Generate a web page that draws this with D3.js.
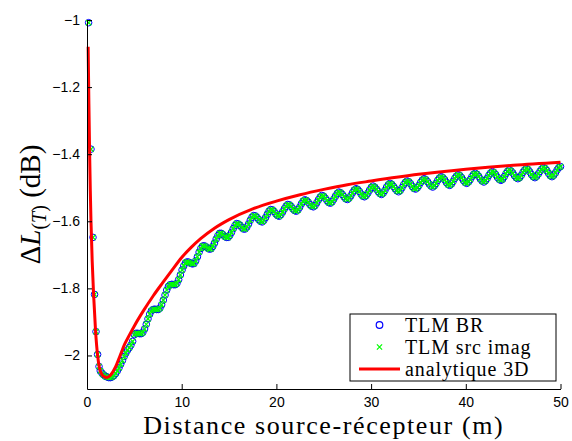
<!DOCTYPE html>
<html>
<head>
<meta charset="utf-8">
<script src="https://cdn.jsdelivr.net/npm/d3@7"></script>
<style>
  body { margin: 0; background: #fff; }
  svg { display: block; }
</style>
</head>
<body>
<div id="chart"></div>
<script>
// TLM samples close to the source (irregular spacing)
const nearX = [0.17, 0.42, 0.63, 0.80, 0.95, 1.12, 1.27];
const nearY = [-1.008, -1.385, -1.648, -1.818, -1.929, -1.997, -2.033];

// TLM samples further out, on a regular 0.18 m grid from 1.40 m to 50 m
const farStart = 1.40;
const farStep = 0.18;
const farY = [
  -2.046, -2.053, -2.058, -2.062, -2.064, -2.066, -2.066, -2.064, -2.060, -2.054,
  -2.046, -2.037, -2.026, -2.015, -2.003, -1.993, -1.984, -1.977, -1.969, -1.958,
  -1.938, -1.934, -1.934, -1.935, -1.935, -1.931, -1.921, -1.907, -1.891, -1.877,
  -1.867, -1.863, -1.862, -1.863, -1.863, -1.859, -1.849, -1.835, -1.820, -1.805,
  -1.794, -1.789, -1.788, -1.789, -1.789, -1.785, -1.774, -1.760, -1.745, -1.733,
  -1.724, -1.721, -1.722, -1.725, -1.727, -1.726, -1.718, -1.706, -1.692, -1.681,
  -1.674, -1.673, -1.676, -1.680, -1.683, -1.682, -1.675, -1.665, -1.653, -1.643,
  -1.636, -1.636, -1.640, -1.645, -1.648, -1.648, -1.642, -1.633, -1.622, -1.613,
  -1.607, -1.608, -1.612, -1.618, -1.623, -1.623, -1.617, -1.608, -1.597, -1.588,
  -1.583, -1.584, -1.589, -1.595, -1.600, -1.602, -1.597, -1.589, -1.579, -1.570,
  -1.565, -1.566, -1.571, -1.578, -1.583, -1.585, -1.580, -1.572, -1.563, -1.555,
  -1.550, -1.551, -1.556, -1.563, -1.568, -1.570, -1.566, -1.558, -1.548, -1.540,
  -1.536, -1.538, -1.543, -1.550, -1.555, -1.557, -1.553, -1.545, -1.536, -1.528,
  -1.523, -1.525, -1.531, -1.538, -1.544, -1.546, -1.542, -1.534, -1.525, -1.517,
  -1.513, -1.515, -1.520, -1.527, -1.533, -1.535, -1.531, -1.524, -1.515, -1.507,
  -1.503, -1.505, -1.511, -1.519, -1.525, -1.527, -1.523, -1.516, -1.507, -1.499,
  -1.495, -1.498, -1.504, -1.511, -1.517, -1.520, -1.516, -1.508, -1.498, -1.491,
  -1.487, -1.490, -1.496, -1.503, -1.509, -1.512, -1.508, -1.500, -1.491, -1.484,
  -1.480, -1.482, -1.488, -1.496, -1.502, -1.504, -1.500, -1.493, -1.484, -1.477,
  -1.473, -1.476, -1.482, -1.489, -1.495, -1.498, -1.494, -1.487, -1.478, -1.471,
  -1.467, -1.470, -1.476, -1.484, -1.490, -1.493, -1.489, -1.481, -1.472, -1.465,
  -1.461, -1.464, -1.470, -1.478, -1.484, -1.487, -1.483, -1.476, -1.467, -1.460,
  -1.457, -1.460, -1.466, -1.474, -1.480, -1.483, -1.479, -1.472, -1.463, -1.456,
  -1.452, -1.455, -1.461, -1.469, -1.475, -1.478, -1.475, -1.467, -1.458, -1.451,
  -1.447, -1.450, -1.456, -1.464, -1.470, -1.473, -1.470, -1.463, -1.454, -1.447,
  -1.443, -1.446, -1.453, -1.461, -1.467, -1.470, -1.466, -1.459, -1.451, -1.444,
  -1.440, -1.443, -1.449, -1.457, -1.464, -1.467, -1.463, -1.456, -1.447, -1.440,
  -1.437
];

// analytic 3D solution
const anaX = [0.12, 0.2, 0.28, 0.35, 0.42, 0.55, 0.7, 0.9, 1.12, 1.3,
  1.5, 1.8, 2.1, 2.5, 3, 3.5, 4, 4.5, 5, 6,
  7, 8, 9, 10, 11, 12, 13.5, 15, 17.5, 20,
  22.5, 25, 27.5, 30, 35, 40, 45, 50];
const anaY = [-1.08, -1.25, -1.40, -1.51, -1.60, -1.72, -1.82, -1.925, -2.0, -2.035,
  -2.053, -2.063, -2.066, -2.058, -2.035, -2.0, -1.965, -1.938, -1.912, -1.865,
  -1.822, -1.783, -1.745, -1.708, -1.678, -1.652, -1.62, -1.595, -1.563, -1.540,
  -1.521, -1.505, -1.491, -1.480, -1.460, -1.445, -1.433, -1.424];

const xTicks = [0, 10, 20, 30, 40, 50];
const yTicks = [-1, -1.2, -1.4, -1.6, -1.8, -2];
const legendLabels = ["TLM BR", "TLM src imag", "analytique 3D"];

const tlmX = nearX.concat(farY.map((_, i) => farStart + i * farStep));
const tlmValues = nearY.concat(farY);
const tlmBR = tlmX.map((x, i) => ({ x, y: tlmValues[i] }));
// both TLM variants coincide at plotting precision
const tlmImag = tlmBR.map(d => ({ ...d }));
const analytic = anaX.map((x, i) => ({ x, y: anaY[i] }));

const W = 572, H = 441;
const margin = { top: 20, right: 11.5, bottom: 52, left: 87 };
const width = W - margin.left - margin.right;
const height = H - margin.top - margin.bottom;

const svg = d3.select("#chart").append("svg")
  .attr("width", W)
  .attr("height", H);

const g = svg.append("g")
  .attr("transform", `translate(${margin.left},${margin.top})`);

const x = d3.scaleLinear().domain([0, 50]).range([0, width]);
const y = d3.scaleLinear().domain([-2.1, -1]).range([height, 0]);

const tickFont = "'Liberation Sans', Arial, sans-serif";
const serif = "'Liberation Serif', 'DejaVu Serif', serif";

// markers
g.append("g")
  .selectAll("circle")
  .data(tlmBR)
  .join("circle")
  .attr("cx", d => x(d.x))
  .attr("cy", d => y(d.y))
  .attr("r", 3.3)
  .attr("fill", "none")
  .attr("stroke", "#0000ff")
  .attr("stroke-width", 1);

const cross = s => `M${-s},${-s}L${s},${s}M${-s},${s}L${s},${-s}`;

g.append("g")
  .selectAll("path")
  .data(tlmImag)
  .join("path")
  .attr("transform", d => `translate(${x(d.x)},${y(d.y)})`)
  .attr("d", cross(2.6))
  .attr("stroke", "#00ff00")
  .attr("stroke-width", 1.2);

const line = d3.line()
  .x(d => x(d.x))
  .y(d => y(d.y))
  .curve(d3.curveMonotoneX);

g.append("path")
  .datum(analytic)
  .attr("fill", "none")
  .attr("stroke", "#ff0000")
  .attr("stroke-width", 3)
  .attr("d", line);

// axes, ticks pointing inward
g.append("g")
  .attr("transform", `translate(0,${height})`)
  .call(d3.axisBottom(x)
    .tickValues(xTicks)
    .tickFormat(d3.format("d"))
    .tickSizeInner(-5)
    .tickSizeOuter(0)
    .tickPadding(8))
  .call(a => a.selectAll("text")
    .style("font-family", tickFont)
    .style("font-size", "14px")
    .attr("fill", "#000"));

g.append("g")
  .call(d3.axisLeft(y)
    .tickValues(yTicks)
    .tickFormat(d3.format("~g"))
    .tickSizeInner(-5)
    .tickSizeOuter(0)
    .tickPadding(7))
  .call(a => a.selectAll("text")
    .style("font-family", tickFont)
    .style("font-size", "14px")
    .attr("fill", "#000"));

// x title
svg.append("text")
  .attr("x", margin.left + width / 2)
  .attr("y", 434)
  .attr("text-anchor", "middle")
  .style("font-family", serif)
  .style("font-size", "26px")
  .style("letter-spacing", "1.6px")
  .text("Distance source-récepteur (m)");

// y title
const yt = svg.append("text")
  .attr("transform", `translate(40,${margin.top + height / 2}) rotate(-90)`)
  .attr("text-anchor", "middle")
  .style("font-family", serif)
  .style("font-size", "29px");
yt.append("tspan").text("Δ");
yt.append("tspan").style("font-style", "italic").text("L");
yt.append("tspan").attr("dy", 6).style("font-size", "20px").text("(");
yt.append("tspan").style("font-size", "20px").style("font-style", "italic").text("T");
yt.append("tspan").style("font-size", "20px").text(")");
yt.append("tspan").attr("dy", -6).text(" (dB)");

// legend
const lg = svg.append("g").attr("transform", "translate(350,314)");
lg.append("rect")
  .attr("width", 206)
  .attr("height", 67)
  .attr("fill", "#fff")
  .attr("stroke", "#000")
  .attr("stroke-width", 1);

const rowY = [11, 33, 55];
lg.append("circle")
  .attr("cx", 29.5).attr("cy", rowY[0]).attr("r", 3.3)
  .attr("fill", "none").attr("stroke", "#0000ff").attr("stroke-width", 1.2);
lg.append("path")
  .attr("transform", `translate(29.5,${rowY[1]})`)
  .attr("d", cross(2.6))
  .attr("stroke", "#00ff00").attr("stroke-width", 1.2);
lg.append("line")
  .attr("x1", 9).attr("x2", 50)
  .attr("y1", rowY[2]).attr("y2", rowY[2])
  .attr("stroke", "#ff0000").attr("stroke-width", 3);

lg.selectAll("text.lab")
  .data(legendLabels)
  .join("text")
  .attr("class", "lab")
  .attr("x", 55)
  .attr("y", (d, i) => rowY[i] + 7)
  .style("font-family", serif)
  .style("font-size", "20px")
  .style("letter-spacing", "0.9px")
  .text(d => d);
</script>
</body>
</html>
